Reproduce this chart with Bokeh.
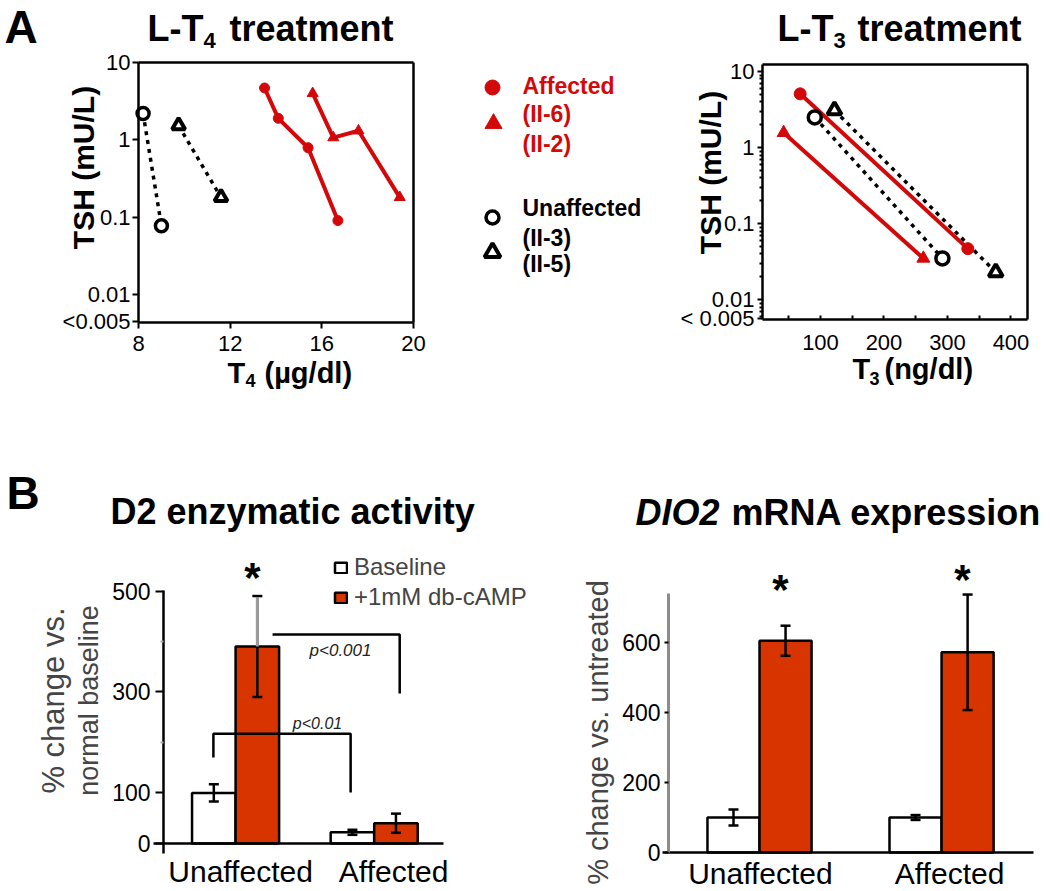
import math
import numpy as np
from bokeh.plotting import figure
from bokeh.models import (Range1d, FixedTicker, Label, Whisker, TeeHead, ColumnDataSource,
                          Legend, LegendItem, LinearAxis)
from bokeh.layouts import row, column
from bokeh.embed import file_html
from bokeh.resources import INLINE
from bokeh.core.properties import value

FONT = "Liberation Sans"
RED = "#d40808"
BAR_RED = "#d83400"

# ---------------- data ----------------
# Panel A, L-T4 treatment: T4 (ug/dl) vs TSH (mU/L)
t4_affected_II6 = [13.5, 14.1, 15.4, 16.7]
tsh_t4_affected_II6 = [4.7, 1.9, 0.79, 0.090]
t4_affected_II2 = [15.6, 16.5, 17.6, 19.4]
tsh_t4_affected_II2 = [4.0, 1.07, 1.31, 0.18]
t4_unaffected_II3 = [8.2, 9.0]
tsh_t4_unaffected_II3 = [2.2, 0.077]
t4_unaffected_II5 = [9.75, 11.6]
tsh_t4_unaffected_II5 = [1.53, 0.18]

# Panel A, L-T3 treatment: T3 (ng/dl) vs TSH (mU/L)
t3_affected_II6 = [68, 332]
tsh_t3_affected_II6 = [5.1, 0.047]
t3_affected_II2 = [42, 262]
tsh_t3_affected_II2 = [1.57, 0.035]
t3_unaffected_II3 = [91, 292]
tsh_t3_unaffected_II3 = [2.5, 0.035]
t3_unaffected_II5 = [122, 376]
tsh_t3_unaffected_II5 = [3.1, 0.023]

tsh_ticks_t4 = [0.0044, 0.01, 0.1, 1, 10]
tsh_labels_t4 = ["<0.005", "0.01", "0.1", "1", "10"]
tsh_ticks_t3 = [0.0056, 0.01, 0.1, 1, 10]
tsh_labels_t3 = ["< 0.005", "0.01", "0.1", "1", "10"]
t4_ticks = [8, 12, 16, 20]
t3_ticks = [100, 200, 300, 400]
t3_minor = [50, 150, 250, 350]

# Panel B
groups = ["Unaffected", "Affected"]
d2_baseline = [100, 22]
d2_baseline_err = [17, 5]
d2_camp = [390, 40]
d2_camp_err = [100, 19]
d2_ticks = [0, 100, 300, 500]
d2_minor = [200, 400]

dio2_baseline = [100, 100]
dio2_baseline_err = [23, 7]
dio2_camp = [605, 572]
dio2_camp_err = [43, 165]
dio2_ticks = [0, 200, 400, 600]

# where the group names sit along each bar chart's x axis
b1_label_pos = [0.036, 1.14]
b2_label_pos = [0.005, 1.044]


# ---------------- helpers ----------------
def rng(c_start, c_end, p0, p1, v0, v1, log=False):
    """Range whose start/end fall on canvas pixels c_start/c_end, given that
    value v0 sits at pixel p0 and v1 at pixel p1."""
    if log:
        v0, v1 = math.log10(v0), math.log10(v1)
    k = (v1 - v0) / (p1 - p0)
    s = v0 + (c_start - p0) * k
    e = v0 + (c_end - p0) * k
    if log:
        s, e = 10 ** s, 10 ** e
    return Range1d(s, e)


def make_fig(box, xr, yr, **kw):
    ox, oy, w, h = box
    p = figure(width=w, height=h, output_backend="svg", toolbar_location=None,
               min_border=0, x_range=xr, y_range=yr, **kw)
    p.background_fill_color = "white"
    p.border_fill_color = "white"
    p.outline_line_color = None
    p.grid.visible = False
    return p


def lab(p, box, x, y, text, size, style="normal", color="black",
        align="left", baseline="middle", angle=0.0):
    ox, oy, w, h = box
    p.add_layout(Label(x=x - ox, y=oy + h - y, x_units="screen", y_units="screen", text=text,
                       text_font=FONT, text_font_size=f"{size}px", text_font_style=style,
                       text_color=color, text_align=align, text_baseline=baseline,
                       angle=angle))


def style_axis(ax, size=22):
    ax.major_label_text_font = FONT
    ax.major_label_text_font_size = f"{size}px"
    ax.major_label_text_color = "black"
    ax.axis_line_color = "black"
    ax.axis_line_width = 2.5
    ax.major_tick_line_color = "black"
    ax.major_tick_line_width = 2
    ax.minor_tick_line_color = "black"
    ax.minor_tick_line_width = 2
    ax.major_tick_in = 0
    ax.minor_tick_in = 0
    ax.axis_label = None


def frame_axes(p, xb, yb):
    """top and right borders of a boxed plot"""
    top = LinearAxis(fixed_location=yb[1], bounds=xb, ticker=FixedTicker(ticks=[]),
                     axis_line_width=2.5, axis_line_color="black")
    right = LinearAxis(fixed_location=xb[1], bounds=yb, ticker=FixedTicker(ticks=[]),
                       axis_line_width=2.5, axis_line_color="black")
    p.add_layout(top, "above")
    p.add_layout(right, "right")


# ---------------- A1: L-T4 treatment ----------------
bA1 = (0, 0, 440, 400)
A1x = (8, 20)
A1y = (0.0043, 10.05)
pA1 = make_fig(bA1, rng(0, 440, 138, 413, A1x[0], A1x[1]),
               rng(400, 0, 322, 62, A1y[0], A1y[1], log=True), y_axis_type="log")
for ax in (pA1.xaxis[0], pA1.yaxis[0]):
    style_axis(ax)
pA1.xaxis.fixed_location = A1y[0]
pA1.xaxis.bounds = A1x
pA1.xaxis.ticker = FixedTicker(ticks=t4_ticks)
pA1.xaxis.major_tick_out = 6
pA1.xaxis.major_label_standoff = 7
pA1.yaxis.fixed_location = A1x[0]
pA1.yaxis.bounds = A1y
pA1.yaxis.ticker = FixedTicker(ticks=tsh_ticks_t4)
pA1.yaxis.major_label_overrides = dict(zip(tsh_ticks_t4, tsh_labels_t4))
pA1.yaxis.major_tick_out = 6
pA1.yaxis.major_label_standoff = 2
frame_axes(pA1, A1x, A1y)

pA1.line(t4_unaffected_II3, tsh_t4_unaffected_II3, line_color="black", line_width=3.5, line_dash="4 5")
pA1.line(t4_unaffected_II5, tsh_t4_unaffected_II5, line_color="black", line_width=3.5, line_dash="4 5")
pA1.line(t4_affected_II6, tsh_t4_affected_II6, line_color=RED, line_width=4)
pA1.line(t4_affected_II2, tsh_t4_affected_II2, line_color=RED, line_width=4)
pA1.scatter(t4_affected_II6, tsh_t4_affected_II6, marker="circle", size=10, color=RED)
pA1.scatter(t4_affected_II2, tsh_t4_affected_II2, marker="triangle", size=11, color=RED)
pA1.scatter(t4_unaffected_II3, tsh_t4_unaffected_II3, marker="circle", size=12,
            line_color="black", line_width=3.5, fill_color="white")
pA1.scatter(t4_unaffected_II5, tsh_t4_unaffected_II5, marker="triangle", size=13,
            line_color="black", line_width=4, fill_color="white")

lab(pA1, bA1, 4, 26, "A", 46, "bold")
lab(pA1, bA1, 147, 28, "L-T", 36, "bold")
lab(pA1, bA1, 203, 40, "4", 22, "bold")
lab(pA1, bA1, 229, 28, "treatment", 36, "bold")
lab(pA1, bA1, 83, 167, "TSH (mU/L)", 30, "bold", align="center", angle=math.pi / 2)
lab(pA1, bA1, 227, 372, "T", 29, "bold")
lab(pA1, bA1, 245, 380, "4", 18, "bold")
lab(pA1, bA1, 264, 372, "(µg/dl)", 29, "bold")

# ---------------- legend for panel A ----------------
pL = figure(width=210, height=400, x_range=Range1d(440, 650), y_range=Range1d(400, 0),
            x_axis_location=None, y_axis_location=None, min_border=0,
            toolbar_location=None, output_backend="svg")
pL.outline_line_color = None
pL.grid.visible = False
pL.background_fill_color = "white"
pL.border_fill_color = "white"
pL.scatter([492], [87], marker="circle", size=15, color=RED)
pL.scatter([493], [123], marker="triangle", size=17, color=RED)
pL.scatter([492], [217], marker="circle", size=13, line_color="black", line_width=3.5, fill_color="white")
pL.scatter([492], [252], marker="triangle", size=16, line_color="black", line_width=4, fill_color="white")
pL.text([522, 522, 522], [85, 113, 143], text=["Affected", "(II-6)", "(II-2)"],
        text_font=value(FONT), text_font_size="23px", text_font_style="bold",
        text_color=RED, text_baseline="middle")
pL.text([522, 522, 522], [207, 237, 263], text=["Unaffected", "(II-3)", "(II-5)"],
        text_font=value(FONT), text_font_size="23px", text_font_style="bold",
        text_color="black", text_baseline="middle")

# ---------------- A2: L-T3 treatment ----------------
bA2 = (650, 0, 398, 400)
A2x = (8.7, 426)
A2y = (0.0055, 12.4)
pA2 = make_fig(bA2, rng(650, 1048, 762, 1027, A2x[0], A2x[1]),
               rng(400, 0, 319, 64, A2y[0], A2y[1], log=True), y_axis_type="log")
for ax in (pA2.xaxis[0], pA2.yaxis[0]):
    style_axis(ax)
minor_t3 = [m * 10.0 ** k for k in (-3, -2, -1, 0) for m in range(2, 10)]
minor_t3 = [v for v in minor_t3 if A2y[0] < v < A2y[1]]
pA2.yaxis.fixed_location = A2x[0]
pA2.yaxis.bounds = A2y
pA2.yaxis.ticker = FixedTicker(ticks=tsh_ticks_t3, minor_ticks=minor_t3)
pA2.yaxis.major_label_overrides = dict(zip(tsh_ticks_t3, tsh_labels_t3))
pA2.yaxis.major_tick_out = 5
pA2.yaxis.minor_tick_out = 3
pA2.yaxis.major_label_standoff = 3
pA2.xaxis.fixed_location = A2y[0]
pA2.xaxis.bounds = A2x
pA2.xaxis.ticker = FixedTicker(ticks=t3_ticks, minor_ticks=t3_minor)
pA2.xaxis.major_tick_out = 0
pA2.xaxis.major_tick_in = 4
pA2.xaxis.minor_tick_out = 0
pA2.xaxis.minor_tick_in = 4
pA2.xaxis.major_label_standoff = 15
frame_axes(pA2, A2x, A2y)

pA2.line(t3_unaffected_II3, tsh_t3_unaffected_II3, line_color="black", line_width=3.5, line_dash="4 5")
pA2.line(t3_unaffected_II5, tsh_t3_unaffected_II5, line_color="black", line_width=3.5, line_dash="4 5")
pA2.line(t3_affected_II6, tsh_t3_affected_II6, line_color=RED, line_width=4)
pA2.line(t3_affected_II2, tsh_t3_affected_II2, line_color=RED, line_width=4)
pA2.scatter(t3_affected_II6, tsh_t3_affected_II6, marker="circle", size=12, color=RED)
pA2.scatter(t3_affected_II2, tsh_t3_affected_II2, marker="triangle", size=13, color=RED)
pA2.scatter(t3_unaffected_II3, tsh_t3_unaffected_II3, marker="circle", size=13,
            line_color="black", line_width=3.5, fill_color="white")
pA2.scatter(t3_unaffected_II5, tsh_t3_unaffected_II5, marker="triangle", size=14,
            line_color="black", line_width=4, fill_color="white")

lab(pA2, bA2, 777, 28, "L-T", 36, "bold")
lab(pA2, bA2, 833, 40, "3", 22, "bold")
lab(pA2, bA2, 857, 28, "treatment", 36, "bold")
lab(pA2, bA2, 710, 172, "TSH (mU/L)", 30, "bold", align="center", angle=math.pi / 2)
lab(pA2, bA2, 852, 368, "T", 29, "bold")
lab(pA2, bA2, 869, 378, "3", 18, "bold")
lab(pA2, bA2, 884, 368, "(ng/dl)", 29, "bold")

# ---------------- B1: D2 enzymatic activity ----------------
bB1 = (0, 400, 545, 490)
B1x = (-0.52, 1.5)
B1y = (-20, 501)
pB1 = make_fig(bB1, rng(0, 545, 163, 443, B1x[0], B1x[1]),
               rng(890, 400, 853, 590, B1y[0], B1y[1]))
for ax in (pB1.xaxis[0], pB1.yaxis[0]):
    style_axis(ax, 23)
pB1.xaxis.fixed_location = 0
pB1.xaxis.bounds = (-0.59, B1x[1])
pB1.xaxis.ticker = FixedTicker(ticks=b1_label_pos)
pB1.xaxis.major_label_overrides = dict(zip(b1_label_pos, groups))
pB1.xaxis.major_label_text_font_size = "30px"
pB1.xaxis.major_tick_out = 0
pB1.xaxis.major_label_standoff = 12
pB1.yaxis.fixed_location = B1x[0]
pB1.yaxis.bounds = B1y
pB1.yaxis.ticker = FixedTicker(ticks=d2_ticks, minor_ticks=d2_minor)
pB1.yaxis.major_tick_out = 8
pB1.yaxis.minor_tick_out = 3
pB1.yaxis.minor_tick_line_color = "#aaaaaa"
pB1.yaxis.major_label_standoff = 5

xg = np.arange(len(groups), dtype=float)
W1 = 0.314
xb1 = xg - W1 / 2
xc1 = xg + W1 / 2
rb1 = pB1.vbar(x=xb1, top=d2_baseline, width=W1, bottom=0, fill_color="white",
               line_color="black", line_width=2.5)
rc1 = pB1.vbar(x=xc1, top=d2_camp, width=W1, bottom=0, fill_color=BAR_RED,
               line_color="black", line_width=2.5)


def add_err(p, xs, vals, errs, color="black"):
    src = ColumnDataSource(dict(x=list(xs), upper=[v + e for v, e in zip(vals, errs)],
                                lower=[v - e for v, e in zip(vals, errs)]))
    w = Whisker(source=src, base="x", upper="upper", lower="lower", line_color=color,
                line_width=2.5,
                upper_head=TeeHead(size=10, line_width=2.5, line_color=color),
                lower_head=TeeHead(size=10, line_width=2.5, line_color=color))
    w.level = "annotation"
    p.add_layout(w)


add_err(pB1, xb1, d2_baseline, d2_baseline_err)
add_err(pB1, xc1, d2_camp, d2_camp_err)
gseg = pB1.segment(x0=[xc1[0]], y0=[d2_camp[0]], x1=[xc1[0]], y1=[d2_camp[0] + d2_camp_err[0] - 2],
                   line_color="#9c9c9c", line_width=3)
gseg.level = "overlay"

# significance brackets
pB1.line([-0.16, -0.16, 0.83, 0.83], [170, 217, 217, 101], line_color="black", line_width=2.5)
pB1.line([0.267, 1.184, 1.184], [414, 414, 297], line_color="black", line_width=2.5)
lab(pB1, bB1, 317, 723, "p<0.01", 16, "italic", color="#222222", align="center")
lab(pB1, bB1, 340, 650, "p<0.001", 17, "italic", color="#222222", align="center")
lab(pB1, bB1, 252, 577, "*", 42, "bold", align="center")

leg = Legend(items=[LegendItem(label="Baseline", renderers=[rb1]),
                    LegendItem(label="+1mM db-cAMP", renderers=[rc1])],
             location=(333, 890 - 611))
leg.label_text_font = FONT
leg.label_text_font_size = "24px"
leg.glyph_width = 15
leg.glyph_height = 13
leg.label_standoff = 6
leg.spacing = 2
leg.padding = 0
leg.margin = 0
leg.border_line_color = None
leg.background_fill_alpha = 0
pB1.add_layout(leg)

lab(pB1, bB1, 6, 492, "B", 46, "bold")
lab(pB1, bB1, 110, 511, "D2 enzymatic activity", 36, "bold")
lab(pB1, bB1, 53, 700, "% change vs.", 31, color="#454545", align="center", angle=math.pi / 2)
lab(pB1, bB1, 88, 700, "normal baseline", 27, color="#454545", align="center", angle=math.pi / 2)

# ---------------- B2: DIO2 mRNA expression ----------------
bB2 = (545, 400, 503, 490)
B2x = (-0.5, 1.505)
B2y = (0, 740)
pB2 = make_fig(bB2, rng(545, 1048, 668, 1033, B2x[0], B2x[1]),
               rng(890, 400, 852, 593, B2y[0], B2y[1]))
for ax in (pB2.xaxis[0], pB2.yaxis[0]):
    style_axis(ax, 23)
pB2.xaxis.fixed_location = 0
pB2.xaxis.bounds = (-0.533, B2x[1])
pB2.xaxis.ticker = FixedTicker(ticks=b2_label_pos)
pB2.xaxis.major_label_overrides = dict(zip(b2_label_pos, groups))
pB2.xaxis.major_label_text_font_size = "30px"
pB2.xaxis.major_tick_out = 0
pB2.xaxis.major_label_standoff = 4
pB2.yaxis.fixed_location = B2x[0]
pB2.yaxis.bounds = B2y
pB2.yaxis.ticker = FixedTicker(ticks=dio2_ticks)
pB2.yaxis.axis_line_color = "#8c8c8c"
pB2.yaxis.axis_line_width = 3
pB2.yaxis.major_tick_out = 4
pB2.yaxis.major_label_standoff = 4

W2 = 0.286
xb2 = xg - W2 / 2
xc2 = xg + W2 / 2
pB2.vbar(x=xb2, top=dio2_baseline, width=W2, bottom=0, fill_color="white",
         line_color="black", line_width=2.5)
pB2.vbar(x=xc2, top=dio2_camp, width=W2, bottom=0, fill_color=BAR_RED,
         line_color="black", line_width=2.5)
add_err(pB2, xb2, dio2_baseline, dio2_baseline_err)
add_err(pB2, xc2, dio2_camp, dio2_camp_err)

lab(pB2, bB2, 780, 589, "*", 42, "bold", align="center")
lab(pB2, bB2, 962, 579, "*", 42, "bold", align="center")
lab(pB2, bB2, 635, 512, "DIO2", 36, "bold italic")
lab(pB2, bB2, 731, 512, "mRNA expression", 36, "bold")
lab(pB2, bB2, 597, 732, "% change vs. untreated", 29, color="#454545", align="center",
    angle=math.pi / 2)

layout = column(row(pA1, pL, pA2), row(pB1, pB2))
open("out.html", "w").write(file_html(layout, INLINE))
